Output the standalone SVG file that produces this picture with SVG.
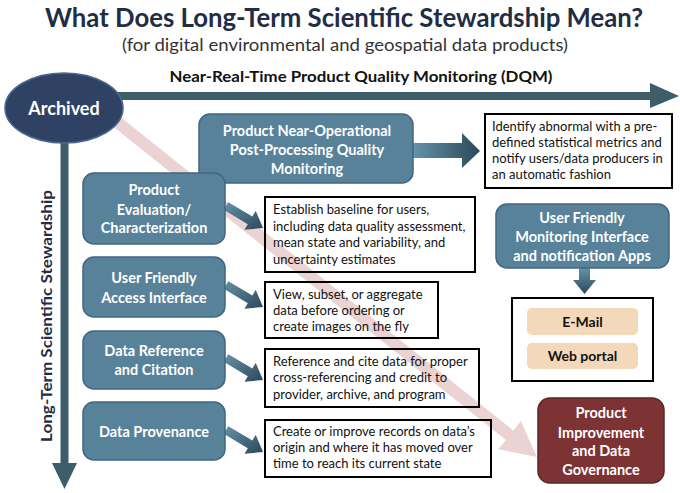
<svg xmlns="http://www.w3.org/2000/svg" width="680" height="493" viewBox="0 0 680 493">
<style>
  text { font-family: Lato, "Liberation Sans", sans-serif; }
  .title { font-size: 26px; font-weight: bold; fill: #1f2d45; text-anchor: middle; }
  .sub { font-size: 18px; fill: #333333; text-anchor: middle; }
  .dqm { font-size: 16px; font-weight: bold; fill: #111111; text-anchor: middle; }
  .side { font-size: 16px; font-weight: bold; fill: #1f2d45; text-anchor: middle; }
  .bbox { fill: #58819a; stroke: #41667f; stroke-width: 1.5; }
  .btxt { font-size: 14.5px; font-weight: bold; fill: #ffffff; text-anchor: middle; }
  .tbox { fill: none; stroke: #000000; stroke-width: 2; }
  .ttxt { font-size: 13px; fill: #111111; }
  .pill { fill: #f3d8b9; }
  .ptxt { font-size: 14px; font-weight: bold; fill: #111111; text-anchor: middle; }
  .arr { fill: #3d5d6b; }
</style>
<defs>
  <linearGradient id="gDiag" x1="0" y1="0" x2="1" y2="1">
    <stop offset="0" stop-color="#6493aa"/>
    <stop offset="1" stop-color="#2c4858"/>
  </linearGradient>
  <linearGradient id="gRight" x1="0" y1="0" x2="1" y2="0">
    <stop offset="0" stop-color="#6493aa"/>
    <stop offset="1" stop-color="#2c4858"/>
  </linearGradient>
  <linearGradient id="gDown" x1="0" y1="0" x2="0" y2="1">
    <stop offset="0" stop-color="#6493aa"/>
    <stop offset="1" stop-color="#2c4858"/>
  </linearGradient>
  <path id="diag" d="M2.3,-3.87 L26.4,10.43 L29.72,4.85 L37,22 L18.48,23.75 L21.8,18.17 L-2.3,3.87 Z" fill="url(#gDiag)"/>
</defs>

<g id="titles">
  <text class="title" x="344" y="27" textLength="598" lengthAdjust="spacingAndGlyphs">What Does Long-Term Scientific Stewardship Mean?</text>
  <text class="sub" x="345" y="51" textLength="446" lengthAdjust="spacingAndGlyphs">(for digital environmental and geospatial data products)</text>
  <text class="dqm" x="361" y="82" textLength="383" lengthAdjust="spacingAndGlyphs">Near-Real-Time Product Quality Monitoring  (DQM)</text>
  <text class="side" transform="translate(52,316) rotate(-90)" textLength="252" lengthAdjust="spacingAndGlyphs">Long-Term Scientific Stewardship</text>
</g>

<g id="connectors">
  <polygon id="pink-arrow" fill="#ebd3d3" points="115.74,113.31 513.34,430.51 520.8,421.1 537,457 498.4,449.3 505.86,439.89 108.26,122.69"/>
  <polygon id="dqm-arrow" class="arr" points="110,92 650,92 650,83 679,96 650,108 650,100 110,100"/>
  <polygon id="lts-arrow" class="arr" points="60.5,140 68.5,140 68.5,463 77,463 64.5,489 52,463 60.5,463"/>
  <polygon id="nop-arrow" fill="url(#gRight)" points="413,143 462,143 462,133 480,151 462,168 462,158 413,158"/>
  <polygon id="ufm-arrow" fill="url(#gDown)" points="579,268 590,268 590,280 596,280 584.5,294 573,280 579,280"/>
  <use href="#diag" transform="translate(226,206)"/>
  <use href="#diag" transform="translate(226,285)"/>
  <use href="#diag" transform="translate(226,358)"/>
  <use href="#diag" transform="translate(226,430)"/>
</g>

<g id="archived">
  <ellipse cx="64" cy="108" rx="59" ry="35" fill="#2f4263" stroke="#4b6690" stroke-width="1.5"/>
  <text x="64" y="115" text-anchor="middle" style="font-size:18px;font-weight:bold;fill:#ffffff">Archived</text>
</g>

<g id="near-op">
  <rect class="bbox" x="199" y="114" width="214" height="69" rx="11"/>
  <text class="btxt" x="307" y="136">Product Near-Operational</text>
  <text class="btxt" x="307" y="155">Post-Processing Quality</text>
  <text class="btxt" x="307" y="174">Monitoring</text>
</g>

<g id="identify">
  <rect class="tbox" x="485" y="114" width="187" height="74"/>
  <text class="ttxt" x="492" y="131">Identify abnormal with a pre-</text>
  <text class="ttxt" x="492" y="147">defined statistical metrics and</text>
  <text class="ttxt" x="492" y="163">notify users/data producers in</text>
  <text class="ttxt" x="492" y="179">an automatic fashion</text>
</g>

<g id="evaluation">
  <rect class="bbox" x="83" y="173" width="142" height="71" rx="11"/>
  <text class="btxt" x="154" y="195">Product</text>
  <text class="btxt" x="154" y="215">Evaluation/</text>
  <text class="btxt" x="154" y="233">Characterization</text>
</g>

<g id="establish">
  <rect class="tbox" x="265" y="197" width="210" height="75"/>
  <text class="ttxt" x="273" y="214">Establish baseline for users,</text>
  <text class="ttxt" x="273" y="231">including data quality assessment,</text>
  <text class="ttxt" x="273" y="247">mean state and variability,  and</text>
  <text class="ttxt" x="273" y="264">uncertainty estimates</text>
</g>

<g id="access">
  <rect class="bbox" x="83" y="257" width="142" height="60" rx="11"/>
  <text class="btxt" x="154" y="283">User Friendly</text>
  <text class="btxt" x="154" y="303">Access Interface</text>
</g>

<g id="view">
  <rect class="tbox" x="265" y="282" width="173" height="56"/>
  <text class="ttxt" x="273" y="299">View, subset, or aggregate</text>
  <text class="ttxt" x="273" y="315">data before ordering or</text>
  <text class="ttxt" x="273" y="331">create images on the fly</text>
</g>

<g id="reference">
  <rect class="bbox" x="83" y="331" width="142" height="58" rx="11"/>
  <text class="btxt" x="154" y="356">Data Reference</text>
  <text class="btxt" x="154" y="375">and Citation</text>
</g>

<g id="cite">
  <rect class="tbox" x="265" y="349" width="214" height="58"/>
  <text class="ttxt" x="273" y="366">Reference and cite data for proper</text>
  <text class="ttxt" x="273" y="382">cross-referencing and credit to</text>
  <text class="ttxt" x="273" y="399">provider, archive,  and program</text>
</g>

<g id="provenance">
  <rect class="bbox" x="83" y="402" width="142" height="58" rx="11"/>
  <text class="btxt" x="154" y="437">Data Provenance</text>
</g>

<g id="records">
  <rect class="tbox" x="265" y="420" width="226" height="57"/>
  <text class="ttxt" x="273" y="436">Create or improve records on data’s</text>
  <text class="ttxt" x="273" y="452">origin and where it has moved over</text>
  <text class="ttxt" x="273" y="468">time to reach  its current  state</text>
</g>

<g id="monitoring">
  <rect class="bbox" x="496" y="204" width="173" height="64" rx="11"/>
  <text class="btxt" x="582" y="223">User Friendly</text>
  <text class="btxt" x="582" y="242">Monitoring Interface</text>
  <text class="btxt" x="582" y="261">and notification  Apps</text>
</g>

<g id="channels">
  <rect class="tbox" x="512" y="298" width="141" height="83"/>
  <rect class="pill" x="527" y="308" width="111" height="27" rx="5"/>
  <text class="ptxt" x="582.5" y="327">E-Mail</text>
  <rect class="pill" x="527" y="343" width="111" height="26" rx="5"/>
  <text class="ptxt" x="582.5" y="361">Web portal</text>
</g>

<g id="improvement">
  <rect x="538" y="398" width="126" height="85" rx="12" fill="#7d3233" stroke="#5e2424" stroke-width="1.5"/>
  <text class="btxt" x="601" y="418">Product</text>
  <text class="btxt" x="601" y="438">Improvement</text>
  <text class="btxt" x="601" y="456">and Data</text>
  <text class="btxt" x="601" y="475">Governance</text>
</g>
</svg>
